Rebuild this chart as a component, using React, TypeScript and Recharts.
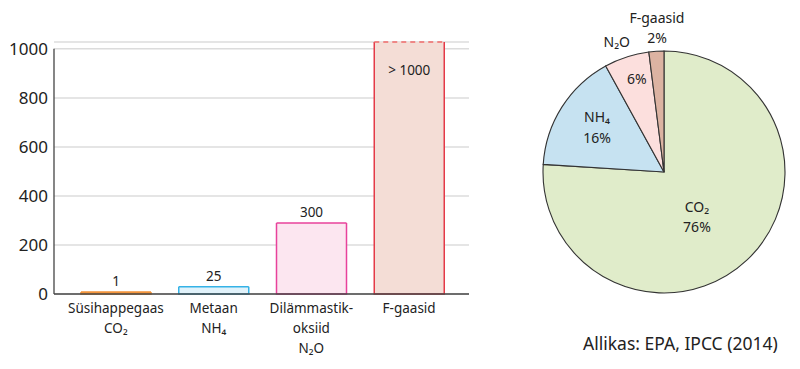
import { Bar, BarChart, CartesianGrid, Cell, LabelList, Pie, PieChart, ReferenceLine, XAxis, YAxis } from 'recharts';

// Global warming potential per gas (bar heights as drawn) and printed labels
const GASES = ['Süsihappegaas\nCO₂', 'Metaan\nNH₄', 'Dilämmastik-\noksiid\nN₂O', 'F-gaasid'];
const GWP = [1, 30, 290, 1028];
const GWP_LABELS = ['1', '25', '300', '> 1000'];
const Y_TICKS = [0, 200, 400, 600, 800, 1000];

// Share of emissions
const SHARE_NAMES = ['CO₂', 'NH₄', 'N₂O', 'F-gaasid'];
const SHARE_VALUES = [76, 16, 6, 2];

const SOURCE = 'Allikas: EPA, IPCC (2014)';

const FONT = '"Noto Sans", "Open Sans", sans-serif';
const TEXT = '#222';
const AXIS = '#444';
const GRID = '#dcdcdc';

const BAR_STYLES = [
  { fill: '#f6a04d', stroke: '#f39237' },
  { fill: '#e1f2fa', stroke: '#35b2e6' },
  { fill: '#fce6f0', stroke: '#e8429b' },
  { fill: '#f4ddd6', stroke: '#e43a48', dash: '#ee6a6a' },
];
const PIE_COLORS = ['#e0ecca', '#c6e2f1', '#fcdfdd', '#dcb3a2'];

// label blocks per slice: lines ('name' | 'pct'), radius factor, angle offset (deg)
const PIE_LABEL_LAYOUT = [
  [{ lines: ['name', 'pct'], r: 0.46, da: -6.9 }],
  [{ lines: ['name', 'pct'], r: 0.665, da: -1.2 }],
  [
    { lines: ['name'], r: 1.14, da: 2 },
    { lines: ['pct'], r: 0.8, da: -1.7 },
  ],
  [{ lines: ['name', 'pct'], r: 1.19, da: -0.8 }],
];

const barData = GASES.map((name, i) => ({ name, value: GWP[i], label: GWP_LABELS[i] }));
const pieData = SHARE_NAMES.map((name, i) => ({ name, value: SHARE_VALUES[i] }));

const GasTick = (props: any) => {
  const { x, y, payload } = props;
  const lines = String(payload.value).split('\n');
  return (
    <text x={x} y={y + 11} textAnchor="middle" fill={TEXT} fontSize={13.5} fontFamily={FONT}>
      {lines.map((l, i) => (
        <tspan key={i} x={x} dy={i === 0 ? 0 : 20}>
          {l}
        </tspan>
      ))}
    </text>
  );
};

const GasBar = (props: any) => {
  const { x, y, width, height, payload } = props;
  const i = GASES.indexOf(payload?.name);
  const st = BAR_STYLES[i] ?? BAR_STYLES[0];
  return (
    <g>
      <rect x={x} y={y} width={width} height={height} fill={st.fill} />
      <path
        d={`M${x},${y} L${x},${y + height} L${x + width},${y + height} L${x + width},${y}`}
        fill="none"
        stroke={st.stroke}
        strokeWidth={1.5}
      />
      <line
        x1={x}
        y1={y}
        x2={x + width}
        y2={y}
        stroke={st.dash ?? st.stroke}
        strokeWidth={1.5}
        strokeDasharray={st.dash ? '5 4' : undefined}
      />
    </g>
  );
};

const renderValueLabel = (p: any) => {
  const { x, y, width, value } = p;
  const inside = String(value).startsWith('>');
  return (
    <text
      x={x + width / 2}
      y={inside ? y + 33 : y - 6}
      textAnchor="middle"
      fill={TEXT}
      fontSize={13.5}
      fontFamily={FONT}
    >
      {value}
    </text>
  );
};

const RAD = Math.PI / 180;
const renderPieLabel = (p: any) => {
  const { cx, cy, midAngle, outerRadius, name, value } = p;
  const idx = SHARE_NAMES.indexOf(name);
  const blocks = PIE_LABEL_LAYOUT[idx] ?? [];
  return (
    <g>
      {blocks.map((b, k) => {
        const a = (midAngle + b.da) * RAD;
        const bx = cx + Math.cos(a) * outerRadius * b.r;
        const by = cy - Math.sin(a) * outerRadius * b.r;
        const first = by - ((b.lines.length - 1) * 20.5) / 2 + 5;
        return (
          <text key={k} x={bx} y={first} textAnchor="middle" fill={TEXT} fontSize={14} fontFamily={FONT}>
            {b.lines.map((l, j) => (
              <tspan key={j} x={bx} dy={j === 0 ? 0 : 20.5}>
                {l === 'name' ? name : `${value}%`}
              </tspan>
            ))}
          </text>
        );
      })}
    </g>
  );
};

export default function App() {
  return (
    <div style={{ position: 'absolute', left: 0, top: 0, width: 800, height: 369, background: '#fff' }}>
      <div style={{ position: 'absolute', left: 0, top: 0 }}>
        <BarChart width={480} height={369} data={barData} margin={{ top: 42, right: 11, bottom: 0, left: 0 }}>
          <CartesianGrid vertical={false} stroke={GRID} strokeWidth={1.5} />
          <XAxis
            dataKey="name"
            height={75}
            axisLine={{ stroke: AXIS, strokeWidth: 1.3 }}
            tickLine={false}
            interval={0}
            padding={{ left: 13, right: 11 }}
            tick={<GasTick />}
          />
          <XAxis xAxisId="frame" type="number" domain={[0, 1]} hide />
          <YAxis
            width={54}
            domain={[0, 'dataMax']}
            ticks={Y_TICKS}
            axisLine={false}
            tickLine={false}
            tickMargin={0}
            tick={{ fill: TEXT, fontSize: 17, fontFamily: FONT }}
          />
          <ReferenceLine
            xAxisId="frame"
            segment={[
              { x: 0, y: 0 },
              { x: 0, y: 1000 },
            ]}
            stroke={AXIS}
            strokeWidth={1.3}
          />
          <Bar dataKey="value" barSize={70} minPointSize={2} shape={<GasBar />} isAnimationActive={false}>
            <LabelList dataKey="label" content={renderValueLabel} />
          </Bar>
        </BarChart>
      </div>
      <div style={{ position: 'absolute', left: 480, top: 0 }}>
        <PieChart width={320} height={369} margin={{ top: 0, right: 0, bottom: 0, left: 0 }}>
          <Pie
            data={pieData}
            dataKey="value"
            nameKey="name"
            cx={184}
            cy={172}
            outerRadius={121}
            startAngle={90}
            endAngle={-270}
            stroke="#333"
            strokeWidth={1.1}
            labelLine={false}
            label={renderPieLabel}
            isAnimationActive={false}
          >
            {pieData.map((d, i) => (
              <Cell key={d.name} fill={PIE_COLORS[i]} />
            ))}
          </Pie>
        </PieChart>
      </div>
      <div
        style={{
          position: 'absolute',
          left: 583,
          top: 332,
          fontFamily: FONT,
          fontSize: 17.5,
          lineHeight: '22px',
          color: TEXT,
          whiteSpace: 'nowrap',
        }}
      >
        {SOURCE}
      </div>
    </div>
  );
}
